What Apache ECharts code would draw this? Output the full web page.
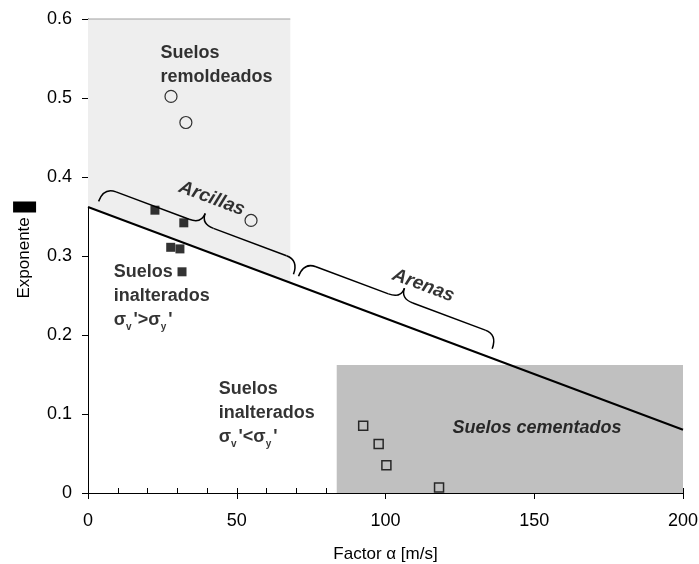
<!DOCTYPE html>
<html><head><meta charset="utf-8">
<script src="https://cdn.jsdelivr.net/npm/echarts@6/dist/echarts.min.js"></script>
<style>html,body{margin:0;padding:0;background:#fff}#c{width:699px;height:564px}</style>
</head><body><div id="c"></div>
<script>
// ---- data ----
const remoldX = [27.9, 32.9, 54.8];
const remoldY = [0.502, 0.469, 0.345];
const undisturbedX = [22.5, 32.2, 27.8, 30.9, 31.6];
const undisturbedY = [0.358, 0.342, 0.311, 0.309, 0.280];
const cementedX = [92.5, 97.7, 100.3, 118.0];
const cementedY = [0.085, 0.062, 0.035, 0.007];
const trendX = [0, 200];
const trendY = [0.362, 0.080];
const braceFromX = [2.5, 69.7];
const braceToX = [68.0, 134.8];
const remoldZoneX = [0, 68];
const cementZoneX = [83.6, 200];
const cementZoneY = [0, 0.162];
const xMin = 0, xMax = 200, xStep = 50, xMinorStep = 10;
const yMin = 0, yMax = 0.6, yStep = 0.1;
const noteText = [
  'Suelos\nremoldeados',
  'Suelos\ninalterados\nσ{s|v}\'>σ{s|y}\'',
  'Suelos\ninalterados\nσ{s|v}\'<σ{s|y}\'',
  'Suelos cementados',
  'Arcillas',
  'Arenas'
];
const noteX = [24.5, 8.8, 44.1, 151.1, 41.8, 112.9];
const noteY = [0.5405, 0.249, 0.100, 0.081, 0.372, 0.262];

// ---- helpers ----
function trendAt(x) {
  const t = (x - trendX[0]) / (trendX[1] - trendX[0]);
  return trendY[0] + t * (trendY[1] - trendY[0]);
}
const FONT = 'Liberation Sans, Arial, sans-serif';
const noteStyles = [
  {align: 'left', rotate: 0, fontStyle: 'normal', fontSize: 18},
  {align: 'left', rotate: 0, fontStyle: 'normal', fontSize: 18},
  {align: 'left', rotate: 0, fontStyle: 'normal', fontSize: 18},
  {align: 'center', rotate: 0, fontStyle: 'italic', fontSize: 18},
  {align: 'center', rotate: -20.5, fontStyle: 'italic', fontSize: 19},
  {align: 'center', rotate: -20.5, fontStyle: 'italic', fontSize: 19}
];

const chart = echarts.init(document.getElementById('c'), null, {renderer: 'canvas'});

const option = {
  animation: false,
  backgroundColor: '#ffffff',
  grid: {left: 88, right: 16, top: 19, bottom: 71, containLabel: false, outerBoundsMode: 'none'},
  xAxis: [{
    type: 'value', min: xMin, max: xMax, interval: xStep,
    name: 'Factor α [m/s]', nameLocation: 'middle', nameGap: 53,
    nameTextStyle: {fontFamily: FONT, fontSize: 17, color: '#000'},
    axisLine: {show: true, onZero: false, lineStyle: {color: '#000', width: 1}},
    axisTick: {show: true, inside: false, length: 6, lineStyle: {color: '#000'}},
    axisLabel: {fontFamily: FONT, fontSize: 18, color: '#000', margin: 19},
    splitLine: {show: false}
  }, {
    type: 'value', min: xMin, max: xMax, interval: xMinorStep, position: 'bottom', offset: 0,
    axisLine: {show: false},
    axisTick: {show: true, inside: true, length: 5, lineStyle: {color: '#000'}},
    axisLabel: {show: false},
    splitLine: {show: false}
  }],
  yAxis: {
    type: 'value', min: yMin, max: yMax, interval: yStep,
    name: '{t|Exponente} {b| }', nameLocation: 'middle', nameGap: 50,
    nameTextStyle: {
      fontFamily: FONT, fontSize: 17, color: '#000', padding: [0, 0, 0, 12],
      rich: {
        t: {fontFamily: FONT, fontSize: 17, color: '#000'},
        b: {backgroundColor: '#000', width: 11, height: 23}
      }
    },
    axisLine: {show: true, onZero: false, lineStyle: {color: '#000', width: 1}},
    axisTick: {show: true, inside: false, length: 6, lineStyle: {color: '#000'}},
    axisLabel: {fontFamily: FONT, fontSize: 18, color: '#000', margin: 16,
      formatter: v => (v === 0 ? '0' : v.toFixed(1))},
    splitLine: {show: false}
  },
  series: [
    { // light zone (remoulded soils), bounded below by the trend line
      type: 'custom', coordinateSystem: 'cartesian2d', silent: true, z: 1,
      data: [[remoldZoneX[0], remoldZoneX[1]]],
      renderItem(params, api) {
        const x0 = api.value(0), x1 = api.value(1);
        const p = [api.coord([x0, yMax]), api.coord([x1, yMax]),
                   api.coord([x1, trendAt(x1)]), api.coord([x0, trendAt(x0)])];
        return {type: 'group', children: [
          {type: 'polygon', shape: {points: p}, style: {fill: '#eeeeee'}},
          {type: 'line', shape: {x1: p[0][0], y1: p[0][1], x2: p[1][0], y2: p[1][1]},
           style: {stroke: '#a0a0a0', lineWidth: 1}}
        ]};
      }
    },
    { // dark zone (cemented soils)
      type: 'custom', coordinateSystem: 'cartesian2d', silent: true, z: 1,
      data: [[cementZoneX[0], cementZoneY[0], cementZoneX[1], cementZoneY[1]]],
      encode: {x: [0, 2], y: [1, 3]},
      renderItem(params, api) {
        const a = api.coord([api.value(0), api.value(3)]);
        const b = api.coord([api.value(2), api.value(1)]);
        return {type: 'rect', shape: {x: a[0], y: a[1], width: b[0] - a[0], height: b[1] - a[1]},
                style: {fill: '#c0c0c0'}};
      }
    },
    { // trend line
      type: 'line', z: 3, symbol: 'none', silent: true,
      data: trendX.map((x, i) => [x, trendY[i]]),
      lineStyle: {color: '#000', width: 2}
    },
    { // braces along the trend line
      type: 'custom', coordinateSystem: 'cartesian2d', silent: true, z: 3,
      data: braceFromX.map((x, i) => [x, braceToX[i]]),
      renderItem(params, api) {
        const x0 = api.value(0), x1 = api.value(1);
        const A = api.coord([x0, trendAt(x0)]);
        const B = api.coord([x1, trendAt(x1)]);
        const L = Math.hypot(B[0] - A[0], B[1] - A[1]);
        const u = [(B[0] - A[0]) / L, (B[1] - A[1]) / L];
        const n = [u[1], -u[0]];
        const M = [(A[0] + B[0]) / 2, (A[1] + B[1]) / 2];
        const d = 24, c = 15, r = 13, h = 11;
        const P = (base, along, off) => [base[0] + u[0] * along + n[0] * off, base[1] + u[1] * along + n[1] * off];
        const st = {stroke: '#000', lineWidth: 1.5, fill: null};
        const q = (s, cp, e) => ({type: 'bezierCurve',
          shape: {x1: s[0], y1: s[1], x2: e[0], y2: e[1], cpx1: cp[0], cpy1: cp[1]}, style: st});
        const ln = (s, e) => ({type: 'line', shape: {x1: s[0], y1: s[1], x2: e[0], y2: e[1]}, style: st});
        return {type: 'group', children: [
          q(P(A, 0, d - c), P(A, 0, d), P(A, r, d)),
          ln(P(A, r, d), P(M, -r, d)),
          q(P(M, -r, d), P(M, 0, d), P(M, 0, d + h)),
          q(P(M, 0, d + h), P(M, 0, d), P(M, r, d)),
          ln(P(M, r, d), P(B, -r, d)),
          q(P(B, -r, d), P(B, 0, d), P(B, 0, d - c))
        ]};
      }
    },
    { // remoulded soils
      type: 'scatter', z: 5, symbol: 'circle', symbolSize: 12,
      data: remoldX.map((x, i) => [x, remoldY[i]]),
      itemStyle: {color: 'rgba(0,0,0,0)', borderColor: '#000', borderWidth: 1.2}
    },
    { // undisturbed soils, sigma_v' > sigma_y'
      type: 'scatter', z: 5, symbol: 'rect', symbolSize: 9,
      data: undisturbedX.map((x, i) => [x, undisturbedY[i]]),
      itemStyle: {color: '#000'}
    },
    { // cemented soils
      type: 'scatter', z: 5, symbol: 'rect', symbolSize: 9,
      data: cementedX.map((x, i) => [x, cementedY[i]]),
      itemStyle: {color: 'rgba(0,0,0,0)', borderColor: '#000', borderWidth: 1.5}
    },
    { // annotations
      type: 'scatter', z: 6, symbol: 'circle', symbolSize: 1, silent: true,
      itemStyle: {color: 'rgba(0,0,0,0)'},
      data: noteText.map((t, i) => ({
        value: [noteX[i], noteY[i]],
        label: {
          show: true, position: [0, 0], formatter: t,
          align: noteStyles[i].align, verticalAlign: 'middle',
          rotate: noteStyles[i].rotate,
          fontFamily: FONT, fontWeight: 'bold', fontStyle: noteStyles[i].fontStyle,
          fontSize: noteStyles[i].fontSize, color: '#000', lineHeight: 24,
          rich: {
            s: {fontFamily: FONT, fontWeight: 'bold', fontSize: 10, color: '#000',
                verticalAlign: 'bottom', lineHeight: 24, padding: [0, 2, 0, 0]}
          }
        }
      }))
    }
  ]
};
chart.setOption(option);
</script>
</body></html>
